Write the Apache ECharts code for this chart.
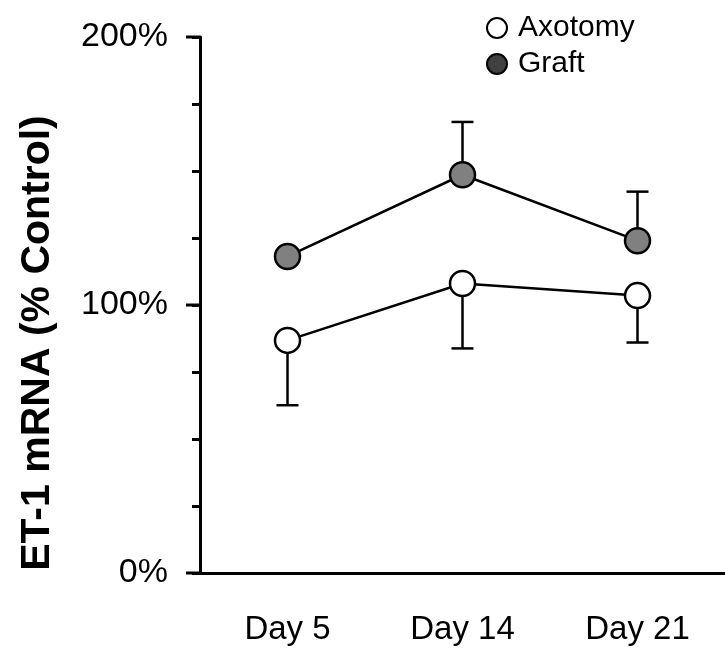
<!DOCTYPE html>
<html><head><meta charset="utf-8">
<script src="https://cdn.jsdelivr.net/npm/echarts@6/dist/echarts.min.js"></script>
<style>html,body{margin:0;padding:0;background:#fff}#c{width:725px;height:653px}</style>
</head><body><div id="c"></div>
<script>
const categories = ['Day 5', 'Day 14', 'Day 21'];
const axotomy = [86.8, 108.0, 103.5];
const axotomyLow = [62.6, 83.8, 86.0];
const graft = [118.1, 148.6, 124.0];
const graftHigh = [null, 168.3, 142.3];
const yTickLabels = {0: '0%', 100: '100%', 200: '200%'};
const yTitle = 'ET-1 mRNA (% Control)';

const chart = echarts.init(document.getElementById('c'));
const font = 'Liberation Sans, Arial, sans-serif';

function errItem(params, api) {
  const i = api.value(0);
  const v = api.value(1), e = api.value(2);
  const p0 = api.coord([i, v]);
  const p1 = api.coord([i, e]);
  const half = 11;
  const st = {stroke: '#000', lineWidth: 2.5};
  return {type: 'group', children: [
    {type: 'line', shape: {x1: p0[0], y1: p0[1], x2: p1[0], y2: p1[1]}, style: st},
    {type: 'line', shape: {x1: p1[0] - half, y1: p1[1], x2: p1[0] + half, y2: p1[1]}, style: st}
  ]};
}

const axErr = axotomy.map((v, i) => [i, v, axotomyLow[i]]);
const grErr = graft.map((v, i) => graftHigh[i] == null ? null : [i, v, graftHigh[i]]).filter(d => d);

const titleGraphic = {type: 'text', x: 38, y: 343, rotation: Math.PI / 2,
  style: {text: yTitle, font: 'bold 41px Liberation Sans, Arial, sans-serif', fill: '#000', align: 'center', verticalAlign: 'middle'}};

chart.setOption({
  animation: false,
  grid: {left: 200, right: 0, top: 37, bottom: 80},
  legend: {
    orient: 'vertical', left: 481, top: 8, itemGap: 6, itemWidth: 20, itemHeight: 20,
    icon: 'circle',
    textStyle: {fontFamily: font, fontSize: 30, lineHeight: 30, color: '#000', padding: [0, 0, 0, 6]},
    data: [
      {name: 'Axotomy', itemStyle: {color: '#fff', borderColor: '#000', borderWidth: 2}},
      {name: 'Graft', itemStyle: {color: '#404040', borderColor: '#000', borderWidth: 2}}
    ]
  },
  xAxis: {
    type: 'category', data: categories, boundaryGap: true,
    axisLine: {lineStyle: {color: '#000', width: 3}},
    axisTick: {show: false},
    axisLabel: {fontFamily: font, fontSize: 33, color: '#000', margin: 40}
  },
  yAxis: {
    type: 'value', min: 0, max: 200, interval: 25,
    splitLine: {show: false},
    axisLine: {show: true, lineStyle: {color: '#000', width: 3}},
    axisTick: {show: true, length: 8, lineStyle: {color: '#000', width: 3}},
    axisLabel: {fontFamily: font, fontSize: 34, color: '#000', margin: 32, padding: [0, 0, 6, 0],
      formatter: v => yTickLabels[v] || ''}
  },
  graphic: [titleGraphic],
  series: [
    {type: 'custom', renderItem: errItem, data: axErr, z: 1, silent: true},
    {type: 'custom', renderItem: errItem, data: grErr, z: 1, silent: true},
    {name: 'Axotomy', type: 'line', data: axotomy, z: 3, symbol: 'circle', symbolSize: 25,
      lineStyle: {color: '#000', width: 2.5},
      itemStyle: {color: '#fff', borderColor: '#000', borderWidth: 2.5}},
    {name: 'Graft', type: 'line', data: graft, z: 3, symbol: 'circle', symbolSize: 25,
      lineStyle: {color: '#000', width: 2.5},
      itemStyle: {color: '#808080', borderColor: '#000', borderWidth: 2.5}}
  ]
});

// major ticks (longer) at labelled values
const majors = [0, 100, 200];
chart.setOption({graphic: [titleGraphic].concat(majors.map(v => {
  const p = chart.convertToPixel({yAxisIndex: 0}, v);
  return {type: 'line', shape: {x1: 186, y1: p, x2: 200, y2: p}, style: {stroke: '#000', lineWidth: 3}};
}))});
</script></body></html>
